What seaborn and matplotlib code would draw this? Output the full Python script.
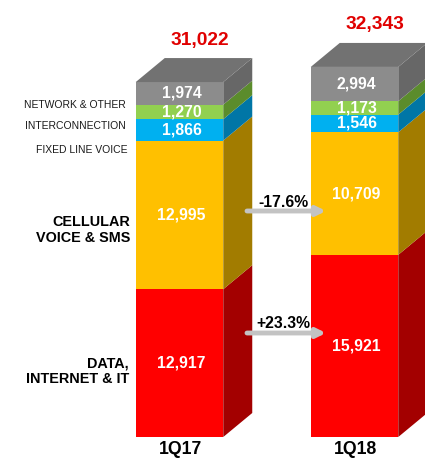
import numpy as np
import pandas as pd
import matplotlib
matplotlib.use("Agg")
import matplotlib.pyplot as plt
import seaborn as sns
from matplotlib.patches import Polygon

# ---------------- data ----------------
quarters = ["1Q17", "1Q18"]
data_internet_it = [12917, 15921]
cellular_voice_sms = [12995, 10709]
fixed_line_voice = [1866, 1546]
interconnection = [1270, 1173]
network_other = [1974, 2994]
totals = [31022, 32343]
cellular_change = "-17.6%"
data_change = "+23.3%"

segment_keys = ["data", "cellular", "fixed", "inter", "network"]
segment_labels = ["DATA,\nINTERNET & IT", "CELLULAR\nVOICE & SMS",
                  "FIXED LINE VOICE", "INTERCONNECTION", "NETWORK & OTHER"]
segment_values = [data_internet_it, cellular_voice_sms, fixed_line_voice,
                  interconnection, network_other]

# ---------------- style ----------------
front_colors = ["#ff0000", "#ffc000", "#00b0f0", "#92d050", "#8c8c8c"]
side_colors = ["#a30000", "#a27c00", "#0076a6", "#5b8c2c", "#676767"]
top_color = "#727272"

sns.set_theme(style="white")
plt.rcParams["font.family"] = ["Liberation Sans", "DejaVu Sans"]

W, H = 425, 459
fig = plt.figure(figsize=(W / 100, H / 100), dpi=100)
ax = fig.add_axes([0, 0, 1, 1])

# pixel scale helpers (layout)
PX_X = 1 / 175.0      # data units per pixel (x)
PX_Y = 87.4           # data units per pixel (y)
X0_PX, Y0_PX = 179.5, 437.0


def px(xp, yp):
    return ((xp - X0_PX) * PX_X, (Y0_PX - yp) * PX_Y)


DX = 29 * PX_X
DY = 24 * PX_Y

df = pd.DataFrame({"quarter": quarters})
for k, v in zip(segment_keys, segment_values):
    df[k] = v
cum = df[segment_keys].cumsum(axis=1)
for k in segment_keys:
    df[k + "_top"] = cum[k]

# draw fronts (tallest cumulative first so lower segments overlay)
containers = {}
for k, col in reversed(list(zip(segment_keys, front_colors))):
    sns.barplot(data=df, x="quarter", y=k + "_top", color=col, width=0.5,
                saturation=1, linewidth=0, errorbar=None, ax=ax, zorder=2)
    containers[k] = ax.containers[-1]

# 3D side faces + labels
for si, k in enumerate(segment_keys):
    for j, patch in enumerate(containers[k].patches):
        top = cum[k].iloc[j]
        bottom = top - df[k].iloc[j]
        xl = patch.get_x()
        xr = xl + patch.get_width()
        side = Polygon([(xr, bottom), (xr + DX, bottom + DY),
                        (xr + DX, top + DY), (xr, top)], closed=True,
                       facecolor=side_colors[si], edgecolor="none", zorder=2)
        ax.add_patch(side)
        if si == len(segment_keys) - 1:
            tp = Polygon([(xl, top), (xl + DX, top + DY),
                          (xr + DX, top + DY), (xr, top)], closed=True,
                         facecolor=top_color, edgecolor="none", zorder=2)
            ax.add_patch(tp)
        ax.text(xl + patch.get_width() / 2 + 2 * PX_X, (top + bottom) / 2,
                f"{df[k].iloc[j]:,}", ha="center", va="center",
                color="white", fontsize=11.3, fontweight="bold", zorder=5)

# totals
for j, patch in enumerate(containers["network"].patches):
    cx = patch.get_x() + patch.get_width() / 2
    ax.text(cx + 20 * PX_X, totals[j] + DY + 18 * PX_Y, f"{totals[j]:,}",
            ha="center", va="center", color="#e00000", fontsize=13.8,
            fontweight="bold", zorder=5)

# category labels
for j, q in enumerate(quarters):
    ax.text(j + 1 * PX_X, -13 * PX_Y, q, ha="center", va="center",
            color="black", fontsize=12.7, fontweight="bold")

# left segment labels
left_pos = {"network": (126, 105), "inter": (126, 126), "fixed": (128, 150),
            "cellular": (130, 230), "data": (129, 371)}
for k, lab in zip(segment_keys, segment_labels):
    xp, yp = left_pos[k]
    bold = k in ("cellular", "data")
    ax.text(*px(xp, yp), lab, ha="right", va="center", multialignment="right",
            color="black" if bold else "#1a1a1a",
            fontsize=10.4 if bold else 7.5,
            fontweight="bold" if bold else "normal", linespacing=1.15)

# change arrows
for yp, ytxt, txt in [(211, 202, cellular_change), (333, 324, data_change)]:
    ax.annotate("", xy=px(326, yp), xytext=px(247, yp),
                arrowprops=dict(arrowstyle="-|>", color="#c3c3c3", lw=3.5,
                                mutation_scale=13, shrinkA=0, shrinkB=0),
                zorder=6)
    ax.text(*px(283, ytxt), txt, ha="center", va="center", color="black",
            fontsize=11.3, fontweight="bold", zorder=6)

ax.set_xlim(px(0, 0)[0], px(W, 0)[0])
ax.set_ylim(px(0, H)[1], px(0, 0)[1])
ax.axis("off")

fig.savefig("out.png", dpi=100)
